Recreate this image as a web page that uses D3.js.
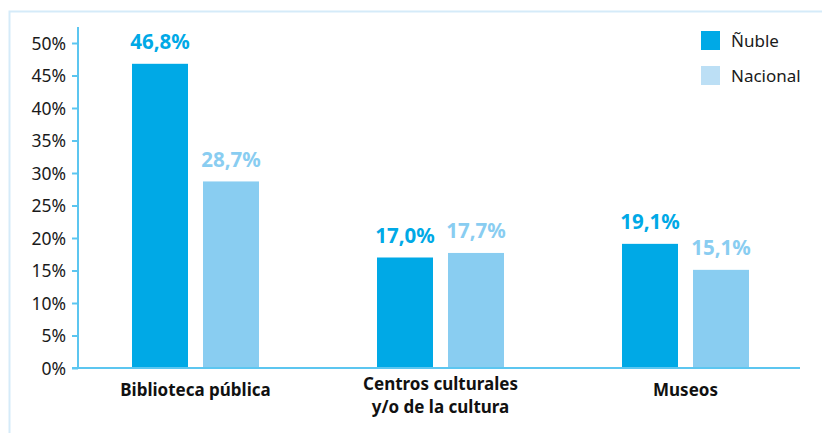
<!DOCTYPE html>
<html><head><meta charset="utf-8">
<script src="https://cdn.jsdelivr.net/npm/d3@7"></script>
<style>body{margin:0;background:#fff}svg{display:block}text{font-family:"Noto Sans",sans-serif}</style>
</head><body><svg id="c" width="822" height="433"></svg>
<script>
const categories = [["Biblioteca pública"], ["Centros culturales", "y/o de la cultura"], ["Museos"]];
const series = ["Ñuble", "Nacional"];
const nuble = [46.8, 17.0, 19.1];
const nacional = [28.7, 17.7, 15.1];
const labelsNuble = ["46,8%", "17,0%", "19,1%"];
const labelsNacional = ["28,7%", "17,7%", "15,1%"];
const yTicks = [0, 5, 10, 15, 20, 25, 30, 35, 40, 45, 50];

const barColors = ["#00a9e6", "#89cdf1"];
const legendColors = ["#00a9e6", "#bcdff5"];
const axisColor = "#5cc6f0";

const svg = d3.select("#c");
svg.append("rect").attr("x", 9.5).attr("y", 11.5).attr("width", 840).attr("height", 450)
  .attr("fill", "none").attr("stroke", "#d5ebf9").attr("stroke-width", 2);

const y = d3.scaleLinear().domain([0, 50]).range([368, 43]);
const x0 = d3.scaleBand().domain(d3.range(categories.length)).range([73, 808]).padding(0);
const x1 = d3.scaleBand().domain(series).range([0, 127]).paddingInner(15 / 71).paddingOuter(0);

// y axis
const yAxis = d3.axisLeft(y).tickValues(yTicks).tickFormat(d => d + "%").tickSize(6).tickPadding(6);
const ga = svg.append("g").attr("transform", "translate(78,0)").call(yAxis);
ga.select(".domain").remove();
ga.selectAll(".tick line").attr("stroke", axisColor).attr("stroke-width", 2);
ga.selectAll(".tick text").attr("font-size", 17.5).attr("fill", "#1a1a1a").attr("dy", "0.35em")
  .style("font-family", '"Noto Sans",sans-serif');
svg.append("line").attr("x1", 78).attr("x2", 78).attr("y1", 27).attr("y2", 369)
  .attr("stroke", axisColor).attr("stroke-width", 2);

const data = categories.map((c, i) => ({i, vals: [nuble[i], nacional[i]], labs: [labelsNuble[i], labelsNacional[i]]}));

const g = svg.selectAll("g.grp").data(data).join("g").attr("class", "grp")
  .attr("transform", d => `translate(${x0(d.i) + x0.bandwidth() / 2 - 63.5},0)`);
g.selectAll("rect").data(d => d.vals.map((v, k) => ({v, k}))).join("rect")
  .attr("x", d => x1(series[d.k])).attr("width", x1.bandwidth())
  .attr("y", d => y(d.v)).attr("height", d => y(0) - y(d.v))
  .attr("fill", d => barColors[d.k]);
g.selectAll("text.val").data(d => d.vals.map((v, k) => ({v, k, lab: d.labs[k]}))).join("text")
  .attr("class", "val")
  .attr("x", d => x1(series[d.k]) + x1.bandwidth() / 2)
  .attr("y", d => y(d.v) - 14.5)
  .attr("text-anchor", "middle").attr("font-size", 20.5).attr("font-weight", "bold")
  .attr("fill", d => barColors[d.k]).text(d => d.lab);

// x axis line
svg.append("line").attr("x1", 72).attr("x2", 800).attr("y1", 368).attr("y2", 368)
  .attr("stroke", axisColor).attr("stroke-width", 2);

// category labels
data.forEach(d => {
  const t = svg.append("text").attr("x", x0(d.i) + x0.bandwidth() / 2).attr("y", 396)
    .attr("text-anchor", "middle").attr("font-size", 17).attr("font-weight", "bold").attr("fill", "#111");
  categories[d.i].forEach((line, j) => {
    t.append("tspan").attr("x", x0(d.i) + x0.bandwidth() / 2).attr("dy", j === 0 ? (categories[d.i].length > 1 ? -6 : 0) : 23).text(line);
  });
});

// legend
const lg = svg.selectAll("g.lg").data(series).join("g").attr("class", "lg")
  .attr("transform", (d, i) => `translate(701,${31 + i * 35})`);
lg.append("rect").attr("width", 19).attr("height", 19).attr("fill", (d, i) => legendColors[i]);
lg.append("text").attr("x", 30).attr("y", 15.5).attr("font-size", 17).attr("fill", "#1a1a1a").text(d => d);
</script></body></html>
